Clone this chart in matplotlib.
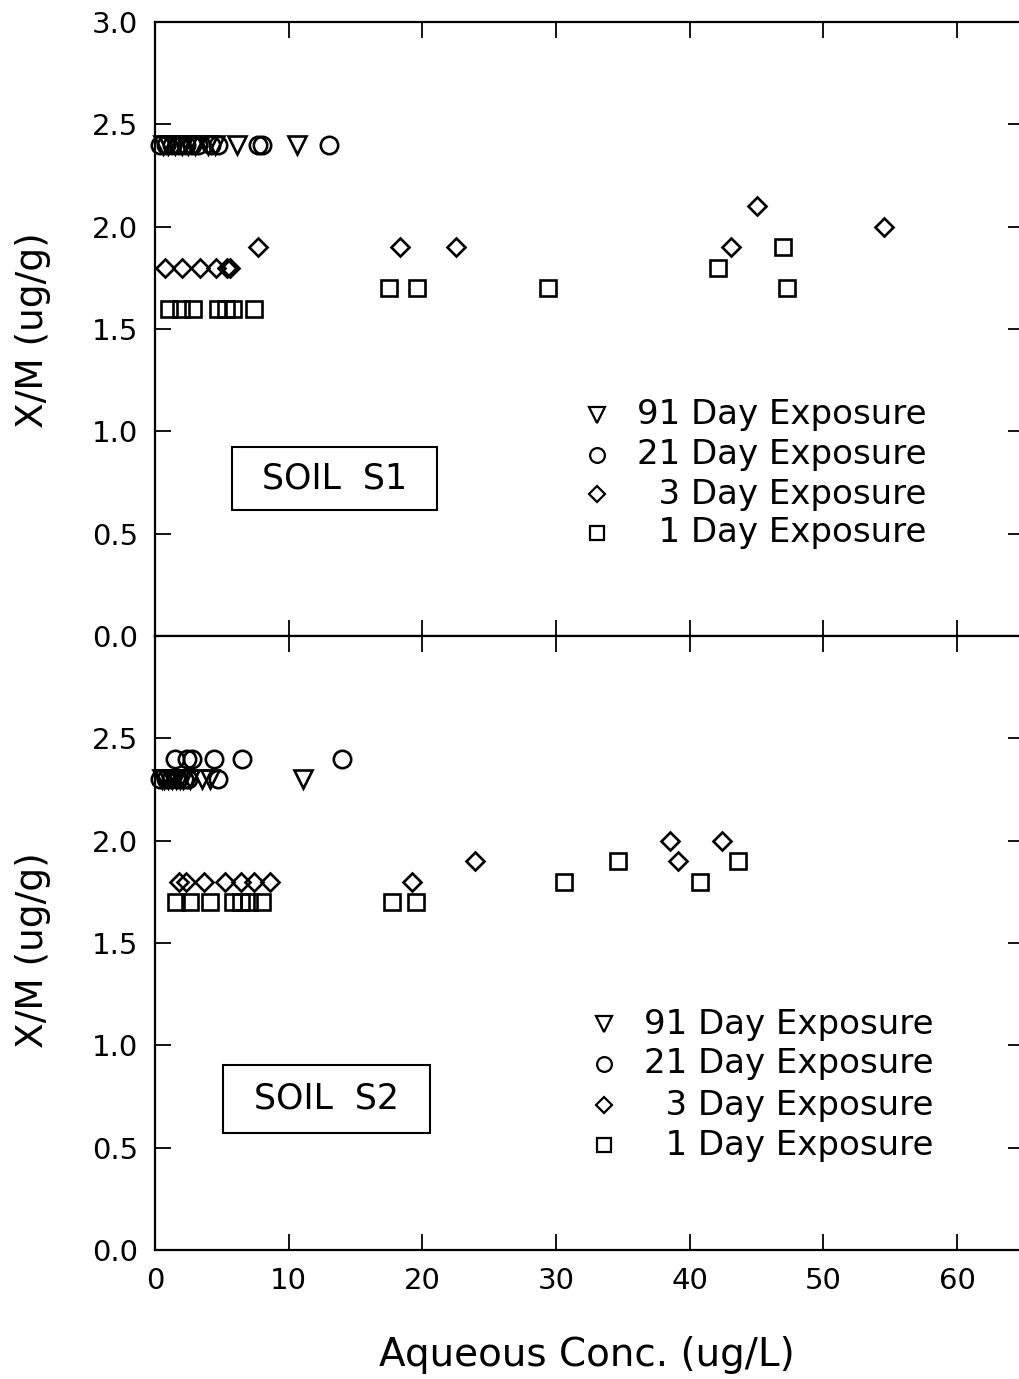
import matplotlib
matplotlib.use("Agg")
import matplotlib.pyplot as plt
from matplotlib.patches import Rectangle

# Soil S1 sorption data (x: aqueous conc. ug/L, y: X/M ug/g)
s1_91_x = [0.6, 1.0, 1.5, 2.0, 2.5, 3.0, 4.0, 4.5, 6.1, 10.6]
s1_91_y = [2.4, 2.4, 2.4, 2.4, 2.4, 2.4, 2.4, 2.4, 2.4, 2.4]
s1_21_x = [0.4, 0.8, 1.3, 1.8, 2.3, 2.8, 3.2, 4.2, 4.7, 7.7, 8.0, 13.0]
s1_21_y = [2.4, 2.4, 2.4, 2.4, 2.4, 2.4, 2.4, 2.4, 2.4, 2.4, 2.4, 2.4]
s1_3_x = [0.75, 2.0, 3.4, 4.6, 5.4, 5.6, 7.7, 18.3, 22.5, 43.1, 45.0, 54.5]
s1_3_y = [1.8, 1.8, 1.8, 1.8, 1.8, 1.8, 1.9, 1.9, 1.9, 1.9, 2.1, 2.0]
s1_1_x = [1.05, 1.95, 2.85, 4.7, 5.3, 5.8, 7.4, 17.5, 19.6, 29.4, 42.1, 47.0, 47.3]
s1_1_y = [1.6, 1.6, 1.6, 1.6, 1.6, 1.6, 1.6, 1.7, 1.7, 1.7, 1.8, 1.9, 1.7]

# Soil S2
s2_91_x = [0.5, 0.7, 1.0, 1.3, 1.6, 1.9, 2.1, 2.6, 3.5, 4.1, 11.1]
s2_91_y = [2.3, 2.3, 2.3, 2.3, 2.3, 2.3, 2.3, 2.3, 2.3, 2.3, 2.3]
s2_21_x = [0.4, 0.8, 1.2, 1.7, 2.2, 2.5, 4.7, 1.5, 2.4, 2.8, 4.4, 6.5, 14.0]
s2_21_y = [2.3, 2.3, 2.3, 2.3, 2.3, 2.3, 2.3, 2.4, 2.4, 2.4, 2.4, 2.4, 2.4]
s2_3_x = [1.8, 2.3, 3.7, 5.2, 6.4, 7.4, 8.6, 19.2, 23.9, 38.5, 39.1, 42.4]
s2_3_y = [1.8, 1.8, 1.8, 1.8, 1.8, 1.8, 1.8, 1.8, 1.9, 2.0, 1.9, 2.0]
s2_1_x = [1.6, 2.6, 4.1, 5.8, 6.4, 7.0, 8.0, 17.7, 19.5, 30.6, 34.6, 40.8, 43.6]
s2_1_y = [1.7, 1.7, 1.7, 1.7, 1.7, 1.7, 1.7, 1.7, 1.7, 1.8, 1.9, 1.8, 1.9]

labels = ["91 Day Exposure", "21 Day Exposure", "  3 Day Exposure", "  1 Day Exposure"]
x_ticks = [0, 10, 20, 30, 40, 50, 60]
y_ticks = [0.0, 0.5, 1.0, 1.5, 2.0, 2.5, 3.0]

markers = [("v", 13.5), ("o", 12.5), ("D", 9.5), ("s", 11.5)]

plt.rcParams["font.family"] = "DejaVu Sans"

W, H = 1019, 1379
fig = plt.figure(figsize=(W / 100, H / 100), dpi=100)
ax1 = fig.add_axes([155 / W, 1 - 636 / H, 869 / W, 614 / H])
ax2 = fig.add_axes([155 / W, 1 - 1250 / H, 869 / W, 614 / H])


def draw_panel(ax, series, soil, box, leg_x, leg_rows):
    for (xs, ys), (m, ms) in zip(series, markers):
        ax.plot(xs, ys, linestyle="none", marker=m, markersize=ms,
                markerfacecolor="none", markeredgecolor="black",
                markeredgewidth=1.9, clip_on=False)
    ax.set_xlim(0, 65)
    ax.set_ylim(0, 3.0)
    ax.set_xticks(x_ticks)
    ax.set_yticks(y_ticks)
    ax.tick_params(direction="in", length=11.5, width=1.3, top=True,
                   right=True, labelsize=21, pad=12)
    for sp in ax.spines.values():
        sp.set_linewidth(1.6)

    # legend drawn in axes coordinates
    for (m, ms), lab, yr in zip(markers, labels, leg_rows):
        ax.plot([leg_x], [yr], transform=ax.transAxes, linestyle="none",
                marker=m, markersize=ms * 0.85, markerfacecolor="none",
                markeredgecolor="black", markeredgewidth=1.6)
        ax.text(leg_x + 0.046, yr, lab, transform=ax.transAxes,
                fontsize=24.5, va="center", ha="left")

    bx, by, bw, bh = box
    ax.add_patch(Rectangle((bx, by), bw, bh, transform=ax.transAxes,
                           facecolor="white", edgecolor="black",
                           linewidth=1.5))
    ax.text(bx + bw / 2, by + bh / 2, soil, transform=ax.transAxes,
            fontsize=25, ha="center", va="center")


draw_panel(ax1, [(s1_91_x, s1_91_y), (s1_21_x, s1_21_y),
                 (s1_3_x, s1_3_y), (s1_1_x, s1_1_y)],
           "SOIL  S1", (0.0886, 0.2052, 0.236, 0.1026),
           (597 - 155) / 869, [0.360, 0.295, 0.231, 0.168])
draw_panel(ax2, [(s2_91_x, s2_91_y), (s2_21_x, s2_21_y),
                 (s2_3_x, s2_3_y), (s2_1_x, s2_1_y)],
           "SOIL  S2", (0.0783, 0.1906, 0.238, 0.111),
           (604 - 155) / 869, [0.368, 0.303, 0.236, 0.171])

ax1.tick_params(labelbottom=False)
ax1.set_yticklabels([f"{v:.1f}" for v in y_ticks])
ax2.set_yticklabels([f"{v:.1f}" for v in y_ticks[:-1]] + [""])

fig.text(33 / W, 1 - 330 / H, "X/M (ug/g)", rotation=90, fontsize=27,
         ha="center", va="center")
fig.text(33 / W, 1 - 950 / H, "X/M (ug/g)", rotation=90, fontsize=27,
         ha="center", va="center")
fig.text(587 / W, 1 - 1355 / H, "Aqueous Conc. (ug/L)", fontsize=28,
         ha="center", va="center")

fig.savefig("out.png", dpi=100)
plt.close(fig)
